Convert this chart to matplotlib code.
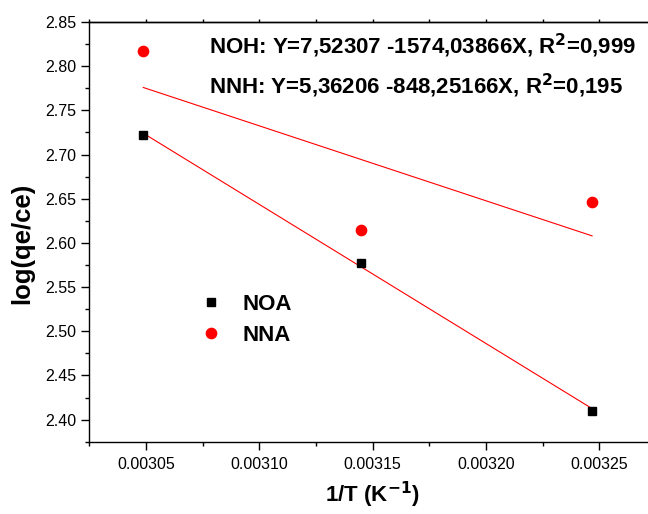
import matplotlib
matplotlib.use("Agg")
import matplotlib.pyplot as plt
from matplotlib.ticker import MultipleLocator, FormatStrFormatter
import numpy as np

plt.rcParams['font.family'] = ['Liberation Sans', 'DejaVu Sans']

# Data
inv_T = [0.0030488, 0.0031447, 0.0032468]
noa = [2.7222, 2.5770, 2.4100]
nna = [2.8175, 2.6150, 2.6465]
fit_noh = (7.52307, -1574.03866)
fit_nnh = (5.36206, -848.25166)
series_labels = ["NOA", "NNA"]
eq_texts = ["NOH: Y=7,52307 -1574,03866X, R$^\\mathbf{2}$=0,999",
            "NNH: Y=5,36206 -848,25166X, R$^\\mathbf{2}$=0,195"]

fig = plt.figure(figsize=(6.48, 5.14), dpi=100)
ax = fig.add_axes([89.3/648, (514-441.7)/514, (656-89.3)/648, (441.7-22)/514])

x = np.array(inv_T)
ax.plot(x, fit_noh[0] + fit_noh[1]*x, color='red', lw=0.8, zorder=2)
ax.plot(x, fit_nnh[0] + fit_nnh[1]*x, color='red', lw=0.8, zorder=2)
ax.plot(x, noa, 's', color='black', ms=6.0, ls='none', label=series_labels[0], zorder=3)
ax.plot(x, nna, 'o', color='red', ms=7.4, ls='none', label=series_labels[1], zorder=3)

ax.set_xlim(0.003025, 0.003275)
ax.set_ylim(2.375, 2.85)
ax.xaxis.set_major_locator(MultipleLocator(0.00005))
ax.xaxis.set_minor_locator(MultipleLocator(0.000025))
ax.yaxis.set_major_locator(MultipleLocator(0.05))
ax.yaxis.set_minor_locator(MultipleLocator(0.025))
ax.xaxis.set_major_formatter(FormatStrFormatter('%.5f'))
ax.yaxis.set_major_formatter(FormatStrFormatter('%.2f'))

for s in ax.spines.values():
    s.set_linewidth(1.0)
ax.spines['right'].set_visible(False)
ax.tick_params(which='major', direction='out', length=5.8, width=1.0, labelsize=11.5)
ax.tick_params(axis='y', which='major', pad=3.5)
ax.tick_params(axis='x', which='major', pad=5)
ax.tick_params(which='minor', direction='out', length=3, width=1.0)

sec = ax.secondary_xaxis('top')
sec.xaxis.set_major_locator(MultipleLocator(0.00005))
sec.xaxis.set_minor_locator(MultipleLocator(0.000025))
sec.tick_params(which='both', direction='out', length=2, width=1.0, labeltop=False)
sec.spines['top'].set_linewidth(1.0)

ax.set_xlabel("1/T (K$^{\\mathbf{-1}}$)", fontsize=16, fontweight='bold', labelpad=6)
ax.set_ylabel("log(qe/ce)", fontsize=18.5, fontweight='bold')
ax.yaxis.set_label_coords(-(89.3-34)/(656-89.3), (441.7-243.5)/(441.7-22))

fig.text(209/648, 1-54/514, eq_texts[0], fontsize=16, fontweight='bold', va='baseline', ha='left')
fig.text(209/648, 1-94/514, eq_texts[1], fontsize=16, fontweight='bold', va='baseline', ha='left')

leg = ax.legend(loc='center left', bbox_to_anchor=((200-89.3)/(656-89.3), (441.7-320)/(441.7-22)),
                frameon=False, prop={'weight': 'bold', 'size': 16}, handletextpad=0.9,
                labelspacing=0.45, handlelength=1.0, borderaxespad=0, borderpad=0)

fig.savefig("out.png", dpi=100)
